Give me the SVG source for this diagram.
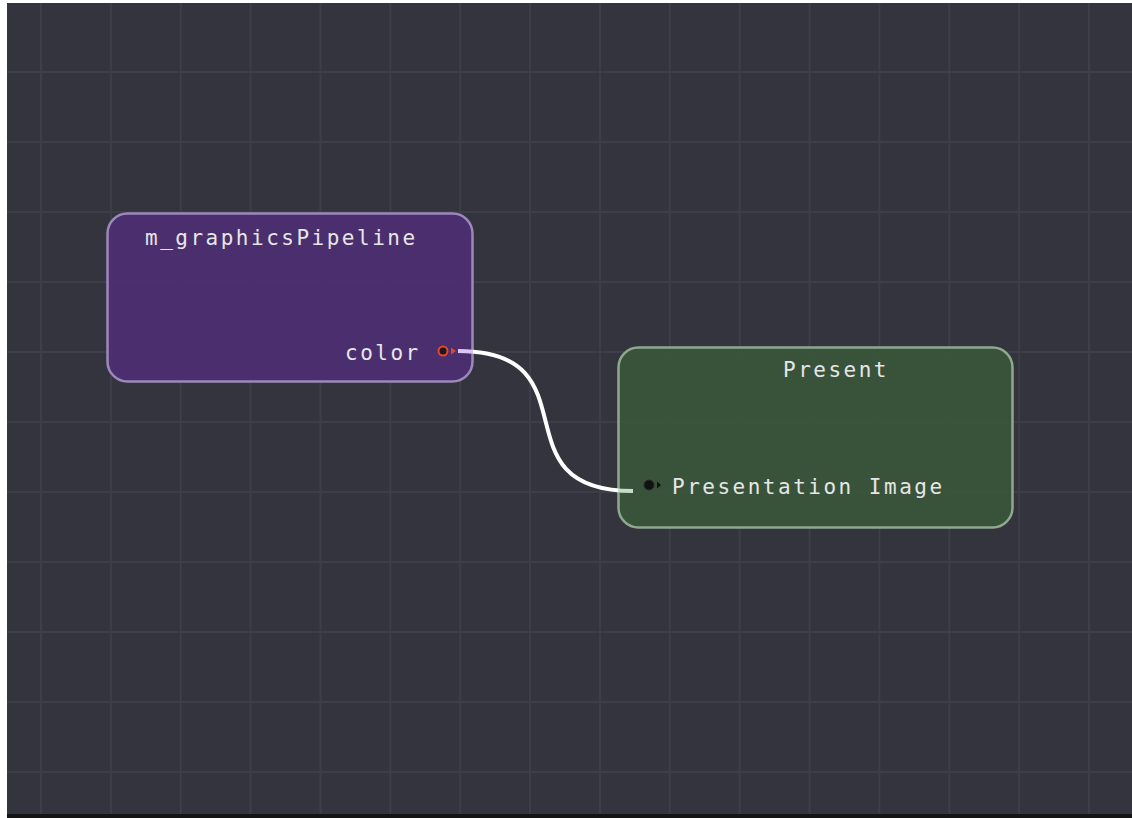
<svg xmlns="http://www.w3.org/2000/svg" width="1132" height="818" viewBox="0 0 1132 818">
  <style>
    .grid { stroke: #3d3e49; stroke-width: 2; fill: none; }
    .label { font-family: "DejaVu Sans Mono", "Liberation Mono", monospace; font-size: 21px; letter-spacing: 2.5px; fill: #e6e6e6; }
    .wire { fill: none; stroke-width: 4; stroke-linecap: butt; }
  </style>
  <defs>
    <linearGradient id="wireGrad" gradientUnits="userSpaceOnUse" x1="458" y1="0" x2="633" y2="0">
      <stop offset="0" stop-color="#d9c9f2"/>
      <stop offset="0.085" stop-color="#d9c9f2"/>
      <stop offset="0.086" stop-color="#ffffff"/>
      <stop offset="0.914" stop-color="#ffffff"/>
      <stop offset="0.915" stop-color="#c9dcc9"/>
      <stop offset="1" stop-color="#c9dcc9"/>
    </linearGradient>
  </defs>

  <!-- background -->
  <rect x="0" y="0" width="1132" height="818" fill="#33343e"/>
  <g id="grid">
    <path class="grid" d="M41 0V814 M110.9 0V814 M180.7 0V814 M250.6 0V814 M320.5 0V814 M390.4 0V814 M460.2 0V814 M530.1 0V814 M600 0V814 M669.8 0V814 M739.7 0V814 M809.6 0V814 M879.4 0V814 M949.3 0V814 M1019.2 0V814 M1089 0V814"/>
    <path class="grid" d="M0 72H1132 M0 142H1132 M0 212H1132 M0 282H1132 M0 352H1132 M0 422H1132 M0 492H1132 M0 562H1132 M0 632H1132 M0 702H1132 M0 772H1132"/>
  </g>
  <rect x="0" y="0" width="1132" height="3" fill="#ffffff"/>
  <rect x="0" y="0" width="7" height="818" fill="#ffffff"/>
  <rect x="7" y="814" width="1125" height="4" fill="#141414"/>

  <!-- nodes -->
  <g id="node-graphicsPipeline">
    <rect x="107.5" y="213.5" width="365" height="168" rx="20" fill="#4e2e73" fill-opacity="0.9" stroke="#9c88bb" stroke-width="2.5"/>
    <text class="label" x="145" y="245">m_graphicsPipeline</text>
    <text class="label" x="345" y="360">color</text>
    <circle cx="443" cy="351" r="4.5" fill="#1a1a1a" stroke="#e5462f" stroke-width="2"/>
    <polygon points="451,347.5 456,351 451,354.5" fill="#e5462f"/>
  </g>

  <g id="node-present">
    <rect x="618.5" y="347.5" width="394" height="180" rx="20" fill="#39563a" fill-opacity="0.9" stroke="#8fa88f" stroke-width="2.5"/>
    <text class="label" x="783" y="377">Present</text>
    <text class="label" x="672" y="494">Presentation Image</text>
    <circle cx="649" cy="485" r="5" fill="#111111" stroke="#2a2a2a" stroke-width="1"/>
    <polygon points="657,481.5 661,485 657,488.5" fill="#111111"/>
  </g>

  <!-- connectors -->
  <g id="connectors">
    <path class="wire" stroke="url(#wireGrad)" d="M458 351 C598 351 493 491 633 491"/>
  </g>
</svg>
